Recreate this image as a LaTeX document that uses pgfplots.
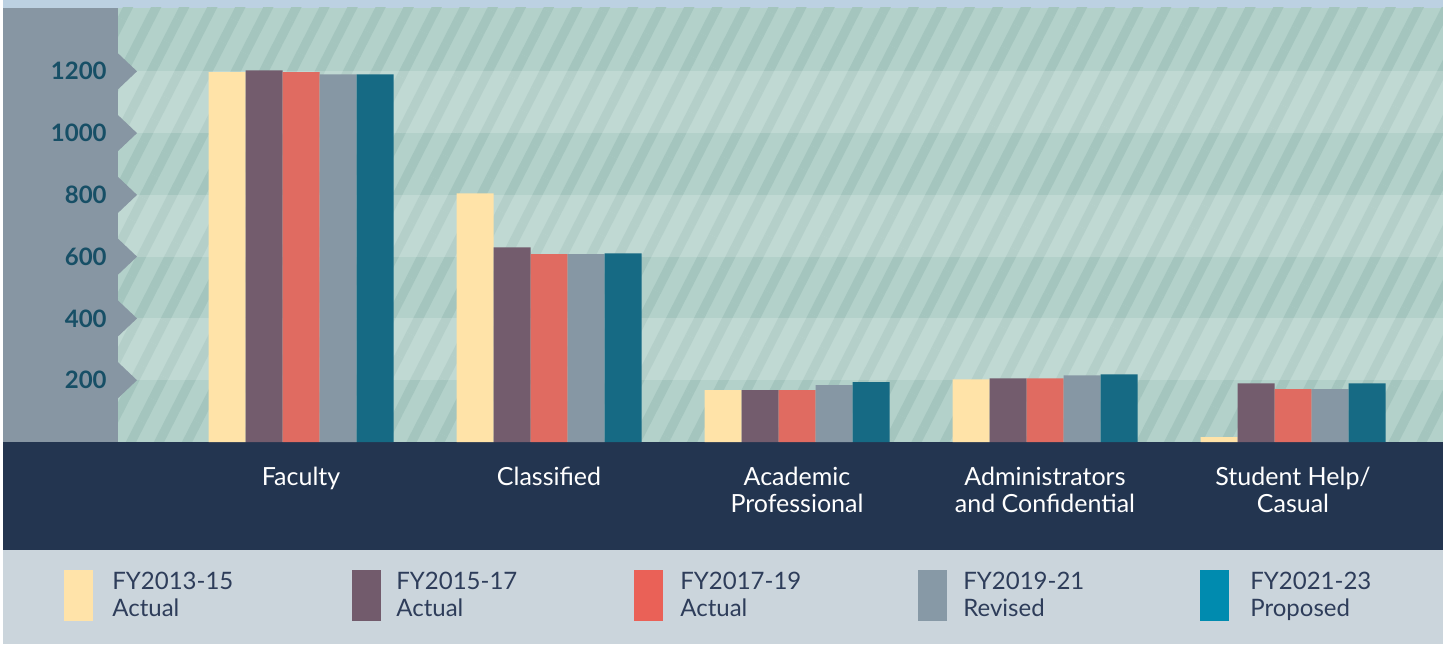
\documentclass[border=0pt]{standalone}
\usepackage{pgfplots}
\pgfplotsset{compat=1.18}
\usepackage{fontspec}
\setmainfont{Lato}
\usetikzlibrary{patterns.meta}
\definecolor{legbg}{HTML}{CBD5DC}
\definecolor{navy}{HTML}{233550}
\definecolor{topblue}{HTML}{BCD1E2}
\definecolor{panel}{HTML}{8796A3}
\definecolor{bgbase}{HTML}{B3D1CA}
\definecolor{stripe}{HTML}{A4C5BE}
\definecolor{tickcol}{HTML}{174F66}
\definecolor{legtext}{HTML}{2E3D5A}
\definecolor{cY}{HTML}{FFE3A8}
\definecolor{cP}{HTML}{735C6D}
\definecolor{cR}{HTML}{E06B61}
\definecolor{cG}{HTML}{8697A4}
\definecolor{cT}{HTML}{166A84}
\definecolor{lY}{HTML}{FFE3A9}
\definecolor{lP}{HTML}{725B6C}
\definecolor{lR}{HTML}{EA6157}
\definecolor{lG}{HTML}{8799A6}
\definecolor{lT}{HTML}{008BAF}
\begin{document}
\begin{tikzpicture}[x=1pt,y=1pt]
\useasboundingbox (0,0) rectangle (723.5,322);
\fill[legbg] (0,0) rectangle (723.5,47);
\fill[topblue] (0,318) rectangle (723.5,322);
\fill[panel] (0,101) rectangle (59,318);
\fill[bgbase] (59,101) rectangle (723.5,318);
\fill[pattern={Lines[angle=63,distance=12.5pt,line width=4.6pt]}, pattern color=stripe] (59,101) rectangle (723.5,318);
\fill[navy] (0,47) rectangle (723.5,101.2);
\fill[white] (0,0) rectangle (1.5,322);
\fill[white] (721.5,0) rectangle (723.5,322);
\begin{axis}[
  at={(59pt,101pt)}, anchor=south west, scale only axis,
  width=664.5pt, height=217pt,
  xmin=-0.738, xmax=4.621, ymin=0, ymax=1405,
  clip=false,
  axis line style={draw=none},
  major tick length=0pt,
  ybar=0pt, bar width=18.5pt,
  ytick={200,400,600,800,1000,1200},
  /pgf/number format/1000 sep={},
  /pgf/number format/assume math mode=true,
  yticklabel style={font=\fontsize{12}{14}\selectfont\bfseries, text=tickcol, anchor=east, inner sep=0pt, xshift=-5.5pt},
  xtick={0,1,2,3,4},
  xticklabels={Faculty, Classified, {Academic\\Professional}, {Administrators\\and Confidential}, {Student Help/\\Casual}},
  xticklabel style={align=center, text=white, font=\fontsize{12.5}{13.2}\selectfont, anchor=north, inner sep=0pt, yshift=-12.5pt},
]
\fill[white, opacity=0.18] (axis cs:-0.738,1000) rectangle (axis cs:4.621,1200);
\fill[white, opacity=0.18] (axis cs:-0.738,600) rectangle (axis cs:4.621,800);
\fill[white, opacity=0.18] (axis cs:-0.738,200) rectangle (axis cs:4.621,400);
\pgfplotsinvokeforeach{200,400,600,800,1000,1200}{
  \fill[panel] ([yshift=-9pt]axis cs:-0.738,#1) -- ([xshift=9.5pt]axis cs:-0.738,#1) -- ([yshift=9pt]axis cs:-0.738,#1) -- cycle;
}
\addplot[fill=cY, draw=none] coordinates {(0,1197) (1,805) (2,168) (3,203) (4,16)};
\addplot[fill=cP, draw=none] coordinates {(0,1203) (1,630) (2,168) (3,206) (4,190)};
\addplot[fill=cR, draw=none] coordinates {(0,1197) (1,608) (2,168) (3,206) (4,171)};
\addplot[fill=cG, draw=none] coordinates {(0,1190) (1,608) (2,184) (3,216) (4,171)};
\addplot[fill=cT, draw=none] coordinates {(0,1190) (1,611) (2,194) (3,219) (4,190)};
\end{axis}
% legend
\foreach \sx/\tx/\c/\a/\b in {32/56/lY/FY2013-15/Actual, 176/198/lP/FY2015-17/Actual, 317/340/lR/FY2017-19/Actual, 459/481.5/lG/FY2019-21/Revised, 600/625/lT/FY2021-23/Proposed}{
  \fill[\c] (\sx,11.5) rectangle (\sx+14.5,37);
  \node[anchor=base west, inner sep=0pt, text=legtext, font=\fontsize{12}{14}\selectfont] at (\tx,27.5) {\a};
  \node[anchor=base west, inner sep=0pt, text=legtext, font=\fontsize{12}{14}\selectfont] at (\tx,14) {\b};
}
\end{tikzpicture}
\end{document}
